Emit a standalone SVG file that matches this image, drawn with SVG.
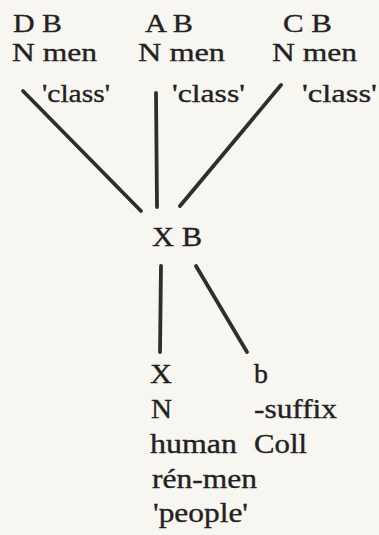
<svg xmlns="http://www.w3.org/2000/svg" width="379" height="535" viewBox="0 0 379 535">
<style>
text{font-family:"Liberation Serif","Times New Roman",serif;font-size:27px;fill:#222;stroke:#222;stroke-width:0.35;}
text.t{font-size:26px;}
.ln{stroke:#2c302d;stroke-width:3.8;stroke-linecap:round;fill:none;}
</style>
<rect width="379" height="535" fill="#f8f6f0"/>
<g id="connectors">
<line class="ln" x1="23" y1="91" x2="141" y2="211"/>
<line class="ln" x1="156" y1="93" x2="157" y2="207"/>
<line class="ln" x1="281" y1="85" x2="180" y2="206"/>
<line class="ln" x1="161" y1="266" x2="160" y2="352"/>
<line class="ln" x1="196" y1="266" x2="247" y2="352"/>
</g>
<g id="node-DB">
<text class="t" x="13" y="32" textLength="49" lengthAdjust="spacingAndGlyphs">D B</text>
<text class="t" x="12" y="61" textLength="85" lengthAdjust="spacingAndGlyphs">N men</text>
<text class="t" x="42" y="102" textLength="68" lengthAdjust="spacingAndGlyphs">'class'</text>
</g>
<g id="node-AB">
<text class="t" x="145" y="32" textLength="48" lengthAdjust="spacingAndGlyphs">A B</text>
<text class="t" x="138" y="61" textLength="87" lengthAdjust="spacingAndGlyphs">N men</text>
<text class="t" x="172" y="102" textLength="73" lengthAdjust="spacingAndGlyphs">'class'</text>
</g>
<g id="node-CB">
<text class="t" x="283" y="32" textLength="49" lengthAdjust="spacingAndGlyphs">C B</text>
<text class="t" x="272" y="61" textLength="85" lengthAdjust="spacingAndGlyphs">N men</text>
<text class="t" x="302" y="102" textLength="75" lengthAdjust="spacingAndGlyphs">'class'</text>
</g>
<g id="node-XB">
<text x="152" y="246" textLength="50" lengthAdjust="spacingAndGlyphs">X B</text>
</g>
<g id="node-X">
<text x="150" y="383" textLength="22" lengthAdjust="spacingAndGlyphs">X</text>
<text x="151" y="418" textLength="21" lengthAdjust="spacingAndGlyphs">N</text>
<text x="150" y="453" textLength="87" lengthAdjust="spacingAndGlyphs">human</text>
<text x="152" y="488" textLength="105" lengthAdjust="spacingAndGlyphs">rén-men</text>
<text x="153" y="522" textLength="95" lengthAdjust="spacingAndGlyphs">'people'</text>
</g>
<g id="node-b">
<text x="254" y="383" textLength="14" lengthAdjust="spacingAndGlyphs">b</text>
<text x="254" y="418" textLength="83" lengthAdjust="spacingAndGlyphs">-suffix</text>
<text x="254" y="453" textLength="53" lengthAdjust="spacingAndGlyphs">Coll</text>
</g>
</svg>
